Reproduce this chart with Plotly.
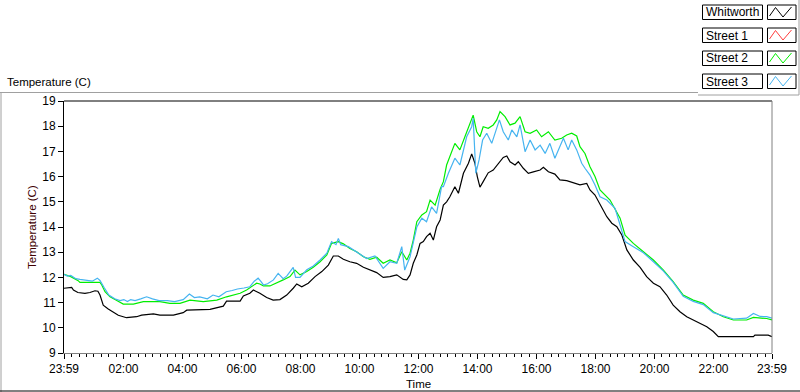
import plotly.graph_objects as go
from datetime import datetime, timedelta

# ---------------- data (hours after 23:59 of the previous day, temperature C) -------------
whitworth_h = [0.00, 0.26, 0.32, 0.47, 0.71, 0.88, 1.05, 1.15, 1.22, 1.33, 1.50, 1.67, 1.84, 2.12,
               2.46, 2.63, 3.03, 3.25, 3.71, 4.04, 4.16, 4.95, 5.40, 5.51, 5.97, 6.08, 6.30, 6.42,
               6.54, 6.64, 6.87, 7.09, 7.32, 7.55, 7.77, 7.89, 8.06, 8.28, 8.51, 8.74, 8.96, 9.13,
               9.30, 9.47, 9.69, 9.92, 10.15, 10.37, 10.60, 10.82, 11.05, 11.28, 11.50, 11.62, 11.73,
               11.84, 11.96, 12.07, 12.18, 12.29, 12.41, 12.52, 12.63, 12.75, 12.86, 12.97, 13.08,
               13.25, 13.37, 13.54, 13.71, 13.82, 13.93, 14.01, 14.10, 14.21, 14.38, 14.55, 14.72,
               14.89, 15.01, 15.12, 15.29, 15.40, 15.57, 15.74, 15.91, 16.14, 16.25, 16.42, 16.64,
               16.81, 17.04, 17.26, 17.49, 17.72, 17.83, 18.00, 18.17, 18.40, 18.57, 18.74, 18.91,
               19.08, 19.30, 19.53, 19.75, 19.98, 20.20, 20.43, 20.65, 20.88, 21.11, 21.33, 21.56,
               21.79, 22.01, 22.18, 22.69, 23.37, 23.42, 23.87, 24.00]
whitworth_t = [11.57, 11.60, 11.50, 11.40, 11.37, 11.40, 11.47, 11.45, 11.30, 10.90, 10.75, 10.64,
               10.50, 10.40, 10.44, 10.50, 10.55, 10.50, 10.50, 10.60, 10.70, 10.73, 10.86, 11.06,
               11.06, 11.26, 11.37, 11.50, 11.43, 11.37, 11.20, 11.10, 11.12, 11.30, 11.57, 11.74,
               11.63, 11.77, 12.03, 12.23, 12.49, 12.85, 12.85, 12.72, 12.62, 12.56, 12.40, 12.29,
               12.19, 12.00, 12.03, 12.10, 11.92, 11.90, 12.10, 12.56, 12.89, 13.35, 13.42, 13.62,
               13.75, 13.48, 14.01, 14.28, 14.87, 15.00, 15.20, 15.60, 15.34, 16.13, 16.53, 16.90,
               16.53, 16.00, 15.58, 15.80, 16.15, 16.26, 16.53, 16.76, 16.82, 16.59, 16.46, 16.59,
               16.33, 16.13, 16.19, 16.26, 16.37, 16.19, 16.10, 15.87, 15.84, 15.76, 15.67, 15.73,
               15.47, 15.27, 14.90, 14.41, 14.15, 14.01, 13.68, 13.09, 12.69, 12.40, 12.03, 11.77,
               11.63, 11.30, 10.90, 10.64, 10.44, 10.31, 10.20, 10.04, 9.85, 9.65, 9.65, 9.65,
               9.71, 9.71, 9.65]

street1_h = []
street1_t = []

street2_h = [0.00, 0.23, 0.48, 0.54, 1.22, 1.28, 1.39, 1.56, 1.79, 2.01, 2.35, 2.69, 3.25, 3.59,
             3.93, 4.27, 4.72, 5.18, 5.51, 5.74, 5.97, 6.19, 6.42, 6.53, 6.64, 6.76, 6.98, 7.21,
             7.43, 7.66, 7.83, 8.00, 8.23, 8.45, 8.68, 8.91, 9.07, 9.30, 9.47, 9.69, 9.92, 10.15,
             10.37, 10.60, 10.82, 11.05, 11.28, 11.45, 11.62, 11.73, 11.84, 11.96, 12.13, 12.29,
             12.41, 12.58, 12.75, 12.86, 12.97, 13.25, 13.42, 13.59, 13.76, 13.87, 13.99, 14.10,
             14.21, 14.38, 14.55, 14.67, 14.78, 14.95, 15.12, 15.29, 15.46, 15.63, 15.80, 16.02,
             16.19, 16.42, 16.64, 16.87, 17.04, 17.21, 17.38, 17.49, 17.66, 17.83, 18.00, 18.17,
             18.51, 18.85, 19.02, 19.30, 19.64, 19.98, 20.32, 20.65, 20.99, 21.33, 21.67, 22.01,
             22.35, 22.69, 23.14, 23.37, 23.82, 24.00]
street2_t = [12.12, 12.03, 11.87, 11.80, 11.80, 11.70, 11.43, 11.23, 11.08, 10.94, 10.94, 11.04,
             11.04, 10.97, 10.97, 11.10, 11.04, 11.10, 11.23, 11.30, 11.37, 11.50, 11.70, 11.77,
             11.74, 11.66, 11.66, 11.77, 11.90, 12.03, 12.29, 12.10, 12.23, 12.40, 12.62, 12.89,
             13.35, 13.42, 13.33, 13.15, 13.02, 12.82, 12.72, 12.80, 12.56, 12.69, 12.58, 13.02,
             12.69, 12.96, 13.48, 14.21, 14.48, 14.61, 15.07, 14.87, 15.50, 15.80, 16.46, 17.32,
             17.06, 17.58, 18.12, 18.44, 17.78, 17.58, 17.98, 17.92, 18.05, 18.25, 18.58, 18.38,
             18.05, 18.12, 18.38, 17.78, 17.72, 17.85, 17.58, 17.78, 17.45, 17.52, 17.65, 17.72,
             17.61, 17.19, 16.92, 16.39, 16.00, 15.47, 15.07, 14.35, 13.68, 13.35, 13.02, 12.69,
             12.29, 11.83, 11.30, 11.10, 10.97, 10.64, 10.44, 10.31, 10.31, 10.41, 10.37, 10.31]

street3_h = [0.00, 0.11, 0.23, 0.40, 0.54, 0.79, 0.96, 1.13, 1.22, 1.36, 1.52, 1.72, 1.90, 2.03,
             2.15, 2.26, 2.41, 2.60, 2.80, 3.00, 3.22, 3.50, 3.75, 4.04, 4.25, 4.42, 4.60, 4.86,
             5.05, 5.25, 5.50, 5.70, 5.88, 6.10, 6.30, 6.45, 6.58, 6.68, 6.76, 6.90, 7.10, 7.26,
             7.43, 7.55, 7.77, 7.85, 8.00, 8.23, 8.45, 8.68, 8.91, 9.07, 9.22, 9.30, 9.38, 9.64,
             9.92, 10.26, 10.54, 10.82, 11.05, 11.28, 11.45, 11.55, 11.73, 11.96, 12.13, 12.29,
             12.46, 12.63, 12.80, 12.86, 13.03, 13.25, 13.42, 13.65, 13.82, 13.87, 13.96, 14.07,
             14.19, 14.33, 14.50, 14.61, 14.76, 14.89, 15.06, 15.18, 15.35, 15.46, 15.63, 15.80,
             15.97, 16.14, 16.31, 16.47, 16.64, 16.81, 16.93, 17.09, 17.21, 17.38, 17.55, 17.66,
             17.83, 18.00, 18.17, 18.40, 18.68, 18.85, 19.02, 19.30, 19.64, 19.98, 20.32, 20.65,
             20.99, 21.33, 21.67, 22.01, 22.35, 22.69, 23.14, 23.37, 23.60, 23.82, 24.00]
street3_t = [12.12, 12.05, 12.08, 11.95, 11.92, 11.88, 11.85, 11.97, 11.88, 11.60, 11.30, 11.15,
             11.08, 11.12, 11.04, 11.12, 11.08, 11.15, 11.23, 11.15, 11.08, 11.08, 11.04, 11.12,
             11.34, 11.20, 11.23, 11.15, 11.30, 11.23, 11.43, 11.48, 11.54, 11.58, 11.63, 11.85,
             11.97, 11.83, 11.70, 11.75, 11.90, 12.16, 11.95, 12.05, 12.40, 12.00, 12.00, 12.30,
             12.45, 12.69, 12.96, 13.42, 13.30, 13.55, 13.30, 13.22, 13.02, 12.75, 12.85, 12.36,
             12.62, 12.56, 13.22, 12.29, 12.82, 14.00, 14.35, 14.21, 14.80, 14.54, 15.60, 15.60,
             16.13, 16.73, 16.46, 17.58, 17.98, 18.31, 16.13, 16.66, 17.45, 17.72, 17.32, 17.72,
             18.25, 17.78, 17.45, 17.85, 17.58, 18.05, 16.99, 17.45, 17.06, 17.25, 16.92, 17.32,
             16.73, 17.19, 17.52, 17.06, 17.45, 17.06, 16.53, 16.33, 16.06, 15.67, 15.20, 15.07,
             14.74, 14.08, 13.42, 13.22, 12.98, 12.62, 12.25, 11.80, 11.25, 11.05, 10.92, 10.60,
             10.48, 10.35, 10.38, 10.57, 10.45, 10.44, 10.38]

series_names = ["Whitworth", "Street 1", "Street 2", "Street 3"]
series_colors = ["#000000", "#FF3C3C", "#00EE00", "#46B4F0"]
tick_labels = ["23:59", "02:00", "04:00", "06:00", "08:00", "10:00", "12:00",
               "14:00", "16:00", "18:00", "20:00", "22:00", "23:59"]
y_ticks = [9, 10, 11, 12, 13, 14, 15, 16, 17, 18, 19]

# ---------------- helpers ----------------
W, H = 800, 392
ML, MR, MT, MB = 64, 28, 101, 39
PW, PH = W - ML - MR, H - MT - MB

def px(x):
    return (x - ML) / PW

def py(y):
    return (H - MB - y) / PH

start = datetime(2000, 1, 1, 23, 59)

def to_time(hours):
    return [start + timedelta(hours=h) for h in hours]

def label_time(lbl, i):
    if i == 0:
        return start
    if i == len(tick_labels) - 1:
        return start + timedelta(hours=24)
    hh, mm = map(int, lbl.split(":"))
    return datetime(2000, 1, 2, hh, mm)

tickvals = [label_time(l, i) for i, l in enumerate(tick_labels)]

FONT = "Liberation Sans"

fig = go.Figure()
for name, color, hs, ts in [
    (series_names[0], series_colors[0], whitworth_h, whitworth_t),
    (series_names[1], series_colors[1], street1_h, street1_t),
    (series_names[2], series_colors[2], street2_h, street2_t),
    (series_names[3], series_colors[3], street3_h, street3_t),
]:
    fig.add_trace(go.Scatter(x=to_time(hs), y=ts, mode="lines", name=name,
                             line=dict(color=color, width=1.2), showlegend=False,
                             hoverinfo="skip"))

fig.update_layout(
    width=W, height=H, autosize=False,
    margin=dict(l=ML, r=MR, t=MT, b=MB, pad=0),
    paper_bgcolor="white", plot_bgcolor="white",
    font=dict(family=FONT, size=12, color="#000000"),
    showlegend=False,
)
fig.update_xaxes(
    type="date", range=[start, start + timedelta(hours=24)],
    tickvals=tickvals, ticktext=tick_labels, ticks="outside", ticklen=5,
    tickcolor="#000000", tickwidth=1, showgrid=False, zeroline=False,
    showline=True, linecolor="#808080", linewidth=1,
    tickfont=dict(family=FONT, size=12),
    minor=dict(ticks="outside", ticklen=3, tickcolor="#000000",
               dtick=15 * 60 * 1000, tick0="2000-01-02 00:00", showgrid=False),
)
fig.update_yaxes(
    range=[9, 19], tickvals=y_ticks, ticks="outside", ticklen=5, tickcolor="#000000",
    showgrid=False, zeroline=False, showline=True, linecolor="#000000", linewidth=1,
    tickfont=dict(family=FONT, size=12),
)

shapes = []
# plot frame top (black) and right (gray)
shapes.append(dict(type="line", xref="paper", yref="paper", x0=0, x1=1, y0=1, y1=1,
                   line=dict(color="#000000", width=1)))
shapes.append(dict(type="line", xref="paper", yref="paper", x0=1, x1=1, y0=0, y1=1,
                   line=dict(color="#808080", width=1)))
# outer panel frame
gray = "#A0A0A0"
shapes.append(dict(type="line", xref="paper", yref="paper", x0=px(0), x1=px(698),
                   y0=py(92.5), y1=py(92.5), line=dict(color=gray, width=1)))
shapes.append(dict(type="line", xref="paper", yref="paper", x0=px(1), x1=px(1),
                   y0=py(92.5), y1=py(392), line=dict(color=gray, width=1)))
shapes.append(dict(type="line", xref="paper", yref="paper", x0=px(0), x1=px(800),
                   y0=py(391), y1=py(391), line=dict(color="#000000", width=1)))
# legend frame
shapes.append(dict(type="line", xref="paper", yref="paper", x0=px(698), x1=px(799),
                   y0=py(95), y1=py(95), line=dict(color=gray, width=1)))
shapes.append(dict(type="line", xref="paper", yref="paper", x0=px(799), x1=px(799),
                   y0=py(0), y1=py(95), line=dict(color=gray, width=1)))

annotations = []
for i, (name, color) in enumerate(zip(series_names, series_colors)):
    top = 5 + 23 * i
    bot = top + 14.5
    shapes.append(dict(type="rect", xref="paper", yref="paper", x0=px(702.5), x1=px(762.5),
                       y0=py(bot), y1=py(top), line=dict(color="#000000", width=1),
                       fillcolor="white"))
    shapes.append(dict(type="rect", xref="paper", yref="paper", x0=px(767.5), x1=px(796),
                       y0=py(bot), y1=py(top), line=dict(color="#000000", width=1),
                       fillcolor="white"))
    pts = [(769.5, top + 11), (775.5, top + 2.5), (783, top + 12), (791.5, top + 2)]
    path = "M " + " L ".join(f"{px(a):.5f},{py(b):.5f}" for a, b in pts)
    shapes.append(dict(type="path", xref="paper", yref="paper", path=path,
                       line=dict(color=color, width=1)))
    annotations.append(dict(text=name, xref="paper", yref="paper", x=px(704), y=py(top + 7.5),
                            xanchor="left", yanchor="middle", showarrow=False,
                            font=dict(family=FONT, size=12, color="#000000")))

annotations.append(dict(text="Temperature (C)", xref="paper", yref="paper", x=px(5), y=py(82),
                        xanchor="left", yanchor="middle", showarrow=False,
                        font=dict(family=FONT, size=11.5, color="#000000")))
annotations.append(dict(text="Temperature (C)", xref="paper", yref="paper", x=px(32),
                        y=py(227), xanchor="center", yanchor="middle", textangle=-90,
                        showarrow=False, font=dict(family=FONT, size=11.5, color="#400000")))
annotations.append(dict(text="Time", xref="paper", yref="paper", x=px(418), y=py(384),
                        xanchor="center", yanchor="middle", showarrow=False,
                        font=dict(family=FONT, size=11.5, color="#000000")))

fig.update_layout(shapes=shapes, annotations=annotations)
fig.write_html("out.html", config={"displayModeBar": False},
               post_script="document.body.style.margin='0px';document.body.style.padding='0px';"
                           "document.documentElement.style.overflow='hidden';")
